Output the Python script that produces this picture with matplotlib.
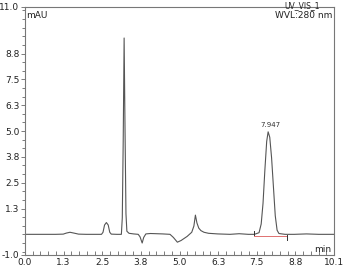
import numpy as np
import matplotlib.pyplot as plt
from matplotlib.ticker import FixedLocator, MultipleLocator

# chromatogram trace (min, mAU)
time_min = [0.0, 0.5, 1.0, 1.25, 1.35, 1.47, 1.6, 1.75, 2.0, 2.3, 2.5, 2.55, 2.6,
            2.66, 2.72, 2.77, 2.82, 3.0, 3.15, 3.18, 3.21, 3.24, 3.27, 3.30, 3.33,
            3.4, 3.55, 3.7, 3.76, 3.83, 3.88, 3.95, 4.1, 4.3, 4.5, 4.74, 4.85,
            4.98, 5.1, 5.3, 5.45, 5.52, 5.57, 5.62, 5.68, 5.75, 5.85, 6.0, 6.3,
            6.7, 7.0, 7.3, 7.5, 7.65, 7.72, 7.78, 7.84, 7.90, 7.947, 8.0, 8.06,
            8.12, 8.18, 8.24, 8.3, 8.5, 8.8, 9.2, 9.6, 10.1]
signal_mau = [0.0, 0.0, 0.0, 0.01, 0.06, 0.1, 0.06, 0.01, 0.0, 0.0, 0.0, 0.1, 0.45,
              0.57, 0.45, 0.1, 0.01, 0.0, 0.0, 0.8, 4.5, 9.5, 5.0, 1.0, 0.15,
              0.05, 0.02, 0.0, -0.12, -0.42, -0.15, 0.02, 0.04, 0.03, 0.02, 0.0, -0.15,
              -0.38, -0.3, -0.1, 0.1, 0.4, 0.93, 0.55, 0.3, 0.18, 0.1, 0.05, 0.02,
              0.0, 0.03, 0.0, 0.0, 0.08, 0.5, 1.5, 3.1, 4.5, 4.96, 4.7, 3.7,
              2.3, 0.9, 0.2, 0.04, 0.0, 0.0, 0.02, 0.0, 0.0]

peak_rt = 7.947
peak_height = 4.96
base_start = [7.5, -0.1]
base_end = [8.57, -0.1]

x_ticks = [0.0, 1.2625, 2.525, 3.7875, 5.05, 6.3125, 7.575, 8.8375, 10.1]
x_labels = ['0.0', '1.3', '2.5', '3.8', '5.0', '6.3', '7.5', '8.8', '10.1']
y_ticks = [-1.0, 1.25, 2.5, 3.75, 5.0, 6.25, 7.5, 8.75, 11.0]
y_labels = ['-1.0', '1.3', '2.5', '3.8', '5.0', '6.3', '7.5', '8.8', '11.0']

fig = plt.figure(figsize=(3.44, 2.72), dpi=100)
ax = fig.add_axes([25 / 344, 17 / 272, 309 / 344, 248 / 272])

ax.plot(time_min, signal_mau, color='#555555', lw=0.8)

# integration baseline and delimiters
ax.plot([base_start[0], base_end[0]], [base_start[1], base_end[1]], color='#e07070', lw=0.7)
ax.plot([base_start[0], base_start[0]], [-0.05, 0.15], color='#333333', lw=0.7)
ax.plot([base_end[0], base_end[0]], [-0.25, -0.05], color='#333333', lw=0.7)
ax.text(peak_rt + 0.07, peak_height + 0.2, f'{peak_rt:.3f}', fontsize=5,
        ha='center', va='bottom', color='#333333')

ax.set_xlim(0, 10.1)
ax.set_ylim(-1.0, 11.0)
ax.xaxis.set_major_locator(FixedLocator(x_ticks))
ax.set_xticklabels(x_labels)
ax.yaxis.set_major_locator(FixedLocator(y_ticks))
ax.set_yticklabels(y_labels)
ax.xaxis.set_minor_locator(MultipleLocator(10.1 / 40))
ax.yaxis.set_minor_locator(MultipleLocator(1.25 / 3))

ax.tick_params(axis='x', which='both', direction='in', length=3, width=0.6,
               colors='#666666', labelcolor='#222222', labelsize=6.5, pad=2)
ax.tick_params(axis='y', which='major', direction='out', length=3, width=0.6,
               colors='#666666', labelcolor='#222222', labelsize=6.5, pad=1)
ax.tick_params(axis='y', which='minor', direction='out', length=2, width=0.6, colors='#666666')

for s in ax.spines.values():
    s.set_color('#777777')
    s.set_linewidth(0.8)

ax.text(0.003, 0.985, 'mAU', transform=ax.transAxes, fontsize=6.5, ha='left', va='top', color='#222222')
ax.text(0.995, 0.985, 'WVL:280 nm', transform=ax.transAxes, fontsize=6.5, ha='right', va='top', color='#222222')
fig.text(320 / 344, 0.997, 'UV_VIS_1', fontsize=5.5, ha='right', va='top', color='#222222')
ax.text(0.99, 0.005, 'min', transform=ax.transAxes, fontsize=6.5, ha='right', va='bottom', color='#222222')

fig.savefig('out.png', dpi=100)
